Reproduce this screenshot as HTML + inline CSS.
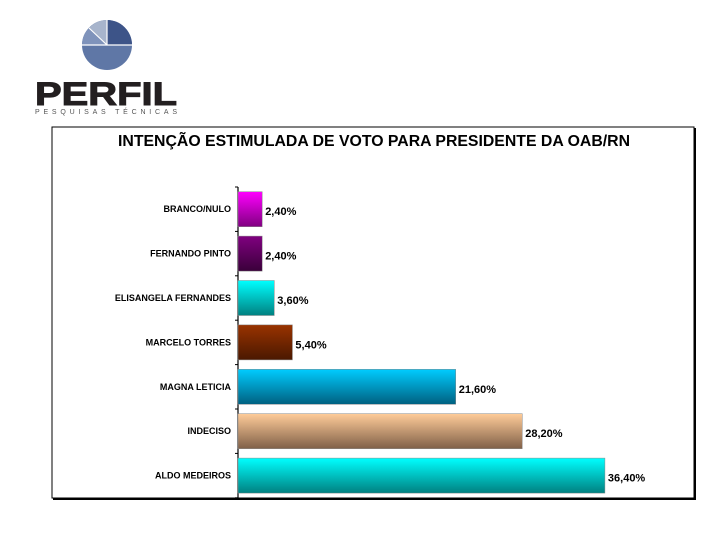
<!DOCTYPE html>
<html><head><meta charset="utf-8">
<style>
body{margin:0;width:720px;height:534px;background:#fff;overflow:hidden;font-family:"Liberation Sans",Arial,sans-serif;}
svg{display:block}
</style></head>
<body>
<svg width="720" height="534" viewBox="0 0 720 534">
<defs>
<linearGradient id="g0" x1="0" y1="0" x2="0" y2="1"><stop offset="0" stop-color="#ff00ff"/><stop offset="1" stop-color="#800080"/></linearGradient>
<linearGradient id="g1" x1="0" y1="0" x2="0" y2="1"><stop offset="0" stop-color="#800080"/><stop offset="1" stop-color="#3a003a"/></linearGradient>
<linearGradient id="g2" x1="0" y1="0" x2="0" y2="1"><stop offset="0" stop-color="#00ffff"/><stop offset="1" stop-color="#008080"/></linearGradient>
<linearGradient id="g3" x1="0" y1="0" x2="0" y2="1"><stop offset="0" stop-color="#993300"/><stop offset="1" stop-color="#4a1800"/></linearGradient>
<linearGradient id="g4" x1="0" y1="0" x2="0" y2="1"><stop offset="0" stop-color="#00ccff"/><stop offset="1" stop-color="#006080"/></linearGradient>
<linearGradient id="g5" x1="0" y1="0" x2="0" y2="1"><stop offset="0" stop-color="#ffcc99"/><stop offset="1" stop-color="#806048"/></linearGradient>
<linearGradient id="g6" x1="0" y1="0" x2="0" y2="1"><stop offset="0" stop-color="#00ffff"/><stop offset="1" stop-color="#008080"/></linearGradient>
</defs>
<g>
<circle cx="107" cy="45" r="25" fill="#5f77a6"/>
<path d="M107 45 L107 20 A25 25 0 0 1 132 45 Z" fill="#3d5488"/>
<path d="M107 45 L89 28 A25 25 0 0 1 107 20 Z" fill="#a7b4cc"/>
<path d="M107 45 L82 45 A25 25 0 0 1 89 28 Z" fill="#7f93bb"/>
<line x1="82" y1="45" x2="132" y2="45" stroke="#fff" stroke-width="1.2"/>
<line x1="107" y1="45" x2="107" y2="20" stroke="#fff" stroke-width="1.2"/>
<line x1="107" y1="45" x2="89" y2="28" stroke="#fff" stroke-width="1.2"/>
<text x="106" y="105" text-anchor="middle" font-size="32" font-weight="bold" fill="#231f20" stroke="#231f20" stroke-width="1" textLength="142" lengthAdjust="spacingAndGlyphs">PERFIL</text>
<text x="106" y="114" text-anchor="middle" font-size="7" fill="#555" textLength="142" lengthAdjust="spacing">PESQUISAS TÉCNICAS</text>
</g>
<rect x="52" y="127" width="642" height="371" fill="#fff" stroke="#000" stroke-width="1"/>
<line x1="695" y1="128" x2="695" y2="500" stroke="#000" stroke-width="2"/>
<line x1="53" y1="499" x2="696" y2="499" stroke="#000" stroke-width="2"/>
<text x="374" y="146" text-anchor="middle" font-size="15.5" font-weight="bold" fill="#000" textLength="512" lengthAdjust="spacingAndGlyphs">INTENÇÃO ESTIMULADA DE VOTO PARA PRESIDENTE DA OAB/RN</text>
<g id="plot"></g>
</svg>
<script>
const categories=["BRANCO/NULO","FERNANDO PINTO","ELISANGELA FERNANDES","MARCELO TORRES","MAGNA LETICIA","INDECISO","ALDO MEDEIROS"];
const values=[2.4,2.4,3.6,5.4,21.6,28.2,36.4];
const valueLabels=["2,40%","2,40%","3,60%","5,40%","21,60%","28,20%","36,40%"];
const NS="http://www.w3.org/2000/svg";
const g=document.getElementById('plot');
const x0=238,pxPer=10.08,yTop=187,band=44.4,barH=35;
const xs=v=>x0+v*pxPer;
const yb=i=>yTop+i*band;
function mk(t,a){const e=document.createElementNS(NS,t);for(const k in a)e.setAttribute(k,a[k]);g.appendChild(e);return e;}
const ax=mk('line',{x1:x0,y1:yTop,x2:x0,y2:yTop+band*categories.length,stroke:'#000','stroke-width':1.2});


for(let i=0;i<=categories.length;i++){
const t=mk('line',{x1:x0-3,y1:yb(i),x2:x0,y2:yb(i),stroke:'#000'});


}
categories.forEach((c,i)=>{
const yc=yb(i)+band/2;
const r=mk('rect',{x:x0,y:yc-barH/2,width:xs(values[i])-x0,height:barH,fill:'url(#g'+i+')',stroke:'#888','stroke-width':0.5});


const l=mk('text',{x:x0-7,y:yc+3,'text-anchor':'end','font-size':9,'font-weight':'bold',fill:'#000'});
l.textContent=c;


const v=mk('text',{x:xs(values[i])+3,y:yc+6,'font-size':11,'font-weight':'bold',fill:'#000'});
v.textContent=valueLabels[i];


});
</script>
</body></html>
